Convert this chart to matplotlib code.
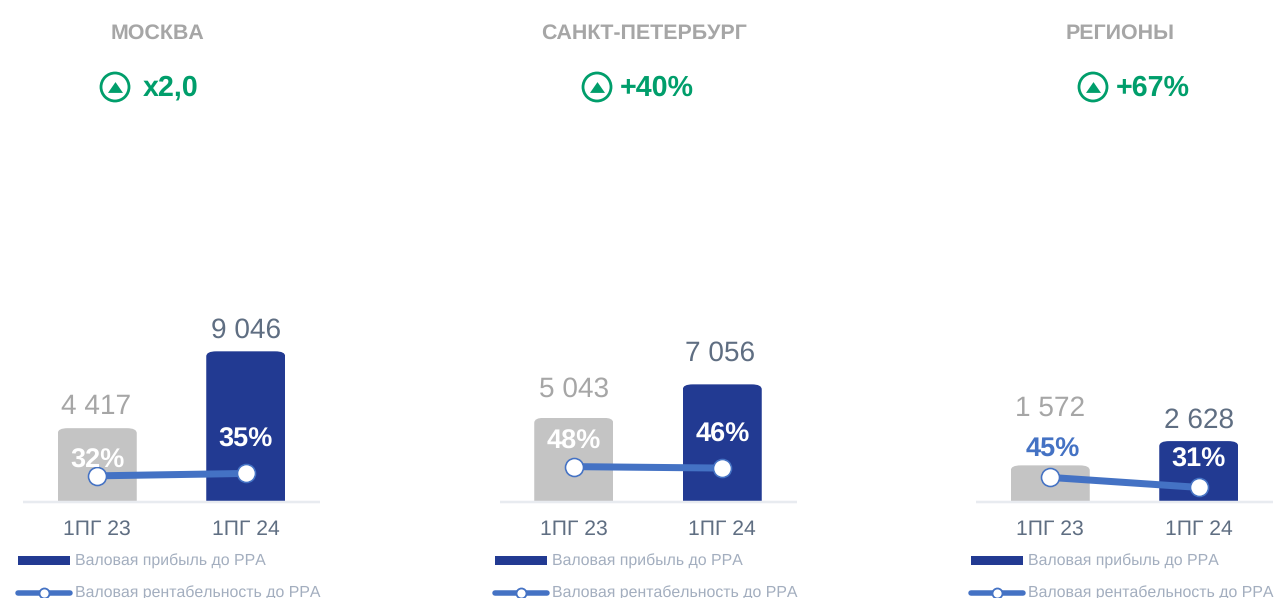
import matplotlib
matplotlib.use("Agg")
import matplotlib.pyplot as plt
from matplotlib.lines import Line2D
from matplotlib.patches import FancyBboxPatch

plt.rcParams['font.family'] = ['Liberation Sans', 'DejaVu Sans']
plt.rcParams['text.hinting'] = 'no_hinting'
plt.rcParams['text.kerning_factor'] = 6

W = 1276
H = 598

regions = ["МОСКВА", "САНКТ-ПЕТЕРБУРГ", "РЕГИОНЫ"]
growth = ["x2,0", "+40%", "+67%"]
periods = ["1ПГ 23", "1ПГ 24"]
profit = [[4417, 9046], [5043, 7056], [1572, 2628]]
profit_labels = [["4 417", "9 046"], ["5 043", "7 056"], ["1 572", "2 628"]]
margin = [[32, 35], [48, 46], [45, 31]]
legend_names = ["Валовая прибыль до РРА", "Валовая рентабельность до РРА"]

# layout, in pixels of the picture
panel_left = [23, 499.5, 976]
panel_width = 297
base_y = 501.5
top_y = 120
bar_ymax = [22980, 22980, 16600]
line_ylim = [(0, 476), (0, 525), (11.3, 545)]
value_off = [[(-1, 21), (0, 21)], [(0, 28), (-2, 31)], [(0, 57), (0, 21)]]
pct_off = [[(0, 15), (0, 34)], [(0, 25), (0, 33)], [(3, 28), (0, 28)]]
title_x = [157.5, 644.5, 1120.5]
icon_x = [115, 597, 1093]
growth_x = [143, 620, 1116]

GREY = "#C4C4C4"
NAVY = "#223A92"
BLUE = "#4472C4"
GREEN = "#009E6B"
SLATE = "#5F6E82"
LIGHT = "#A6A6A6"
LEGEND = "#A3AEBF"

fig = plt.figure(figsize=(W / 100, H / 100), dpi=100)
px = 72 / 100

for i in range(3):
	ax = fig.add_axes([panel_left[i] / W, (H - base_y) / H, panel_width / W, (base_y - top_y) / H])
	ax.set_xlim(-0.5, 1.5)
	ax.set_ylim(0, bar_ymax[i])
	bars = ax.bar([0, 1], profit[i], width=0.532, color=[GREY, NAVY], zorder=2)

	# rounded top corners: clip each bar with a rounded box that runs below the axis
	x_per_px = 2 / panel_width
	y_per_px = bar_ymax[i] / (base_y - top_y)
	for b in bars:
		clip = FancyBboxPatch((b.get_x(), -bar_ymax[i] * 0.1), b.get_width(),
			b.get_height() + bar_ymax[i] * 0.1,
			boxstyle="round,pad=0,rounding_size=%f" % (10 * x_per_px),
			mutation_aspect=(5 * y_per_px) / (10 * x_per_px))
		clip.set_transform(ax.transData)
		b.set_clip_path(clip)

	for s in ["top", "left", "right"]:
		ax.spines[s].set_visible(False)
	ax.spines["bottom"].set_color("#E8EBF0")
	ax.spines["bottom"].set_linewidth(2.5 * px)
	ax.spines["bottom"].set_capstyle("butt")
	ax.set_yticks([])
	ax.set_xticks([0, 1])
	ax.set_xticklabels(periods, fontsize=15.2, color=SLATE)
	ax.tick_params(axis="x", length=0, pad=13)

	for j in range(2):
		off = value_off[i][j]
		ax.annotate(profit_labels[i][j], (j, profit[i][j]), xytext=(off[0] * px, off[1] * px),
			textcoords="offset points", ha="center", va="center", fontsize=20.2,
			color=LIGHT if j == 0 else SLATE)

	ax2 = ax.twinx()
	ax2.set_ylim(*line_ylim[i])
	ax2.axis("off")
	ax2.plot([0, 1], margin[i], color=BLUE, lw=7 * px, marker="o", ms=18 * px,
		mfc="white", mec=BLUE, mew=1.6 * px, zorder=3)
	for j in range(2):
		col = BLUE if (i == 2 and j == 0) else "white"
		ax2.annotate("%d%%" % margin[i][j], (j, margin[i][j]),
			xytext=(pct_off[i][j][0] * px, pct_off[i][j][1] * px),
			textcoords="offset points", ha="center", va="center", fontsize=19.5,
			fontweight="bold", color=col, zorder=4)

	handles = [
		bars[1],
		Line2D([], [], color=BLUE, lw=5.5 * px, marker="o", ms=10 * px, mfc="white", mec=BLUE,
			mew=1.8 * px, solid_capstyle="round"),
	]
	ax.legend(handles, legend_names, loc="upper left", frameon=False, fontsize=11.4,
		labelcolor=LEGEND, bbox_to_anchor=((panel_left[i] - 5) / W, (H - 554) / H),
		bbox_transform=fig.transFigure, borderpad=0, borderaxespad=0,
		handlelength=3.3, handleheight=0.5, handletextpad=0.3, labelspacing=1.08)

# headers
top = fig.add_axes([0, 0, 1, 1], facecolor="none")
top.set_xlim(0, W)
top.set_ylim(H, 0)
top.axis("off")
tri = [(-1, -0.72), (1, -0.72), (0, 0.72)]
for i in range(3):
	top.text(title_x[i], 33, regions[i], ha="center", va="center", fontsize=15.4,
		fontweight="bold", color=LIGHT)
	top.scatter([icon_x[i]], [87], s=(28 * px) ** 2, facecolor="none", edgecolor=GREEN, linewidth=2.8 * px)
	top.scatter([icon_x[i]], [87], s=(15 * px) ** 2, marker=tri, color=GREEN, linewidth=0)
	top.text(growth_x[i], 88, growth[i], ha="left", va="center", fontsize=20.6,
		fontweight="bold", color=GREEN)

fig.savefig("out.png", dpi=100)
